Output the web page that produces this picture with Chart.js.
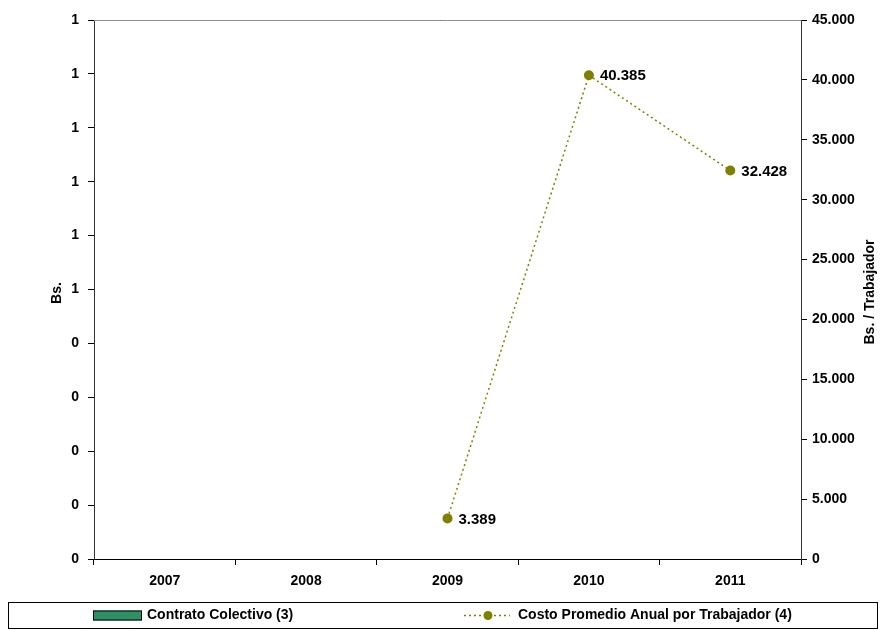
<!DOCTYPE html>
<html>
<head>
<meta charset="utf-8">
<script src="https://cdn.jsdelivr.net/npm/chart.js@4"></script>
<style>
  html, body { margin: 0; padding: 0; background: #fff; }
  #wrap { width: 881px; height: 630px; }
</style>
</head>
<body>
<div id="wrap"><canvas id="chart" width="881" height="630"></canvas></div>
<script>
// chart data
const years = ["2007", "2008", "2009", "2010", "2011"];
const contratoColectivo = [0, 0, 0, 0, 0];
const costoPromedio = [null, null, 3389, 40385, 32428];
const barLabel = "Contrato Colectivo (3)";
const lineLabel = "Costo Promedio Anual por Trabajador (4)";

const FONT = "'Liberation Sans', Arial, sans-serif";
const GREEN = "#2f9065";
const OLIVE = "#808000";

function fmtMiles(v) {
  return String(Math.round(v)).replace(/\B(?=(\d{3})+(?!\d))/g, ".");
}

// titles, top border, point labels and the boxed legend
const extras = {
  id: "extras",
  afterDraw(chart) {
    const ctx = chart.ctx;
    const area = chart.chartArea;
    ctx.save();

    // top border of plot
    ctx.strokeStyle = "#8c8c8c";
    ctx.lineWidth = 1;
    ctx.beginPath();
    ctx.moveTo(area.left, area.top + 0.5);
    ctx.lineTo(area.right, area.top + 0.5);
    ctx.stroke();

    // point value labels
    const meta = chart.getDatasetMeta(1);
    ctx.fillStyle = "#000";
    ctx.font = "bold 15px " + FONT;
    ctx.textAlign = "left";
    ctx.textBaseline = "middle";
    meta.data.forEach((pt, i) => {
      const v = costoPromedio[i];
      if (v == null) return;
      ctx.fillText(fmtMiles(v), pt.x + 11, pt.y + 1);
    });

    // axis titles
    ctx.font = "bold 14px " + FONT;
    ctx.textAlign = "center";
    ctx.save();
    ctx.translate(57, 293);
    ctx.rotate(-Math.PI / 2);
    ctx.fillText("Bs.", 0, 0);
    ctx.restore();
    ctx.save();
    ctx.translate(870, 292);
    ctx.rotate(-Math.PI / 2);
    ctx.fillText("Bs. / Trabajador", 0, 0);
    ctx.restore();

    // legend box
    ctx.strokeStyle = "#000";
    ctx.strokeRect(8.5, 602.5, 869, 26);
    const ly = 615.5;
    ctx.fillStyle = GREEN;
    ctx.fillRect(93, ly - 5, 49, 10);
    ctx.strokeRect(93.5, ly - 4.5, 48, 9);
    ctx.fillStyle = "#000";
    ctx.font = "bold 14px " + FONT;
    ctx.textAlign = "left";
    ctx.fillText(barLabel, 147, ly);

    ctx.strokeStyle = OLIVE;
    ctx.lineWidth = 1.5;
    ctx.setLineDash([2, 3]);
    ctx.beginPath();
    ctx.moveTo(464, ly);
    ctx.lineTo(510, ly);
    ctx.stroke();
    ctx.setLineDash([]);
    ctx.fillStyle = OLIVE;
    ctx.beginPath();
    ctx.arc(488, ly, 4.5, 0, Math.PI * 2);
    ctx.fill();
    ctx.fillStyle = "#000";
    ctx.fillText(lineLabel, 518, ly);

    ctx.restore();
  }
};

new Chart(document.getElementById("chart"), {
  data: {
    labels: years,
    datasets: [
      {
        type: "bar",
        label: barLabel,
        data: contratoColectivo,
        backgroundColor: GREEN,
        borderColor: "#000",
        borderWidth: 1,
        yAxisID: "y",
        order: 2,
      },
      {
        type: "line",
        label: lineLabel,
        data: costoPromedio,
        borderColor: OLIVE,
        backgroundColor: OLIVE,
        borderWidth: 1.5,
        borderDash: [2, 3],
        pointRadius: 5,
        pointHoverRadius: 5,
        pointBorderWidth: 0,
        yAxisID: "y1",
        order: 1,
      },
    ],
  },
  options: {
    responsive: false,
    animation: false,
    layout: { padding: { top: 20, left: 0, right: 0, bottom: 30 } },
    plugins: {
      legend: { display: false },
      tooltip: { enabled: false },
    },
    scales: {
      x: {
        offset: true,
        grid: {
          offset: true,
          drawOnChartArea: false,
          tickLength: 6,
          color: "#000",
        },
        border: { color: "#000", width: 1 },
        ticks: {
          color: "#000",
          padding: 8,
          font: { family: FONT, size: 14, weight: "bold" },
        },
        afterFit(scale) {
          scale.height = 41;
        },
      },
      y: {
        position: "left",
        min: 0,
        max: 1,
        ticks: {
          stepSize: 0.1,
          color: "#000",
          padding: 9,
          font: { family: FONT, size: 14, weight: "bold" },
          callback: (v) => Math.round(v),
        },
        grid: { drawOnChartArea: false, tickLength: 6, color: "#000" },
        border: { color: "#333", width: 1 },
        afterFit(scale) {
          scale.width = 94;
        },
      },
      y1: {
        position: "right",
        min: 0,
        max: 45000,
        ticks: {
          stepSize: 5000,
          color: "#000",
          padding: 5,
          font: { family: FONT, size: 14, weight: "bold" },
          callback: (v) => fmtMiles(v),
        },
        grid: { drawOnChartArea: false, tickLength: 6, color: "#000" },
        border: { color: "#333", width: 1 },
        afterFit(scale) {
          scale.width = 80;
        },
      },
    },
  },
  plugins: [extras],
});
</script>
</body>
</html>
